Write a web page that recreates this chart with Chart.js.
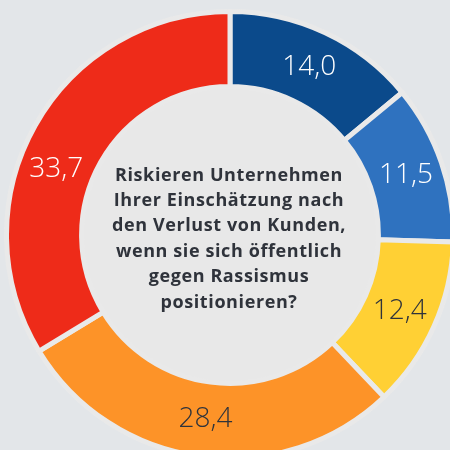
<!DOCTYPE html>
<html>
<head>
<meta charset="utf-8">
<script src="https://cdn.jsdelivr.net/npm/chart.js@4"></script>
<style>
html,body{margin:0;padding:0;width:450px;height:450px;overflow:hidden;background:#e3e6e9;}
#box{position:absolute;left:4px;top:9px;width:452px;height:452px;}
</style>
</head>
<body>
<div id="box"><canvas id="graf"></canvas></div>
<script>
var valori=[14.0,11.5,12.4,28.4,33.7];
var etichette=["14,0","11,5","12,4","28,4","33,7"];
var colori=["#0b4a8b","#2f72bf","#ffd034","#fd9328","#ee2b19"];
var coloriTesto=["#ffffff","#ffffff","#2f333b","#2f333b","#ffffff"];
var spostamento=[0,0,0,0,-8.5]; // gradi, solo per l'ultima etichetta
var domanda=["Riskieren Unternehmen","Ihrer Einschätzung nach","den Verlust von Kunden,","wenn sie sich öffentlich","gegen Rassismus","positionieren?"];

var centro={
    id:"centro",
    beforeDatasetsDraw:function(chart){
        var arc=chart.getDatasetMeta(0).data[0];
        var ctx=chart.ctx;
        ctx.save();
        ctx.fillStyle="#e8e8e8";
        ctx.beginPath();
        ctx.arc(arc.x,arc.y,arc.outerRadius+2,0,Math.PI*2);
        ctx.fill();
        ctx.restore();
    },
    afterDatasetsDraw:function(chart){
        var meta=chart.getDatasetMeta(0);
        var ctx=chart.ctx;
        ctx.save();
        ctx.textAlign="center";
        ctx.textBaseline="middle";
        ctx.font="300 28px 'Open Sans'";
        for(var i=0;i<meta.data.length;i++){
            var a=meta.data[i];
            var ang=(a.startAngle+a.endAngle)/2+spostamento[i]*Math.PI/180;
            var r=(a.innerRadius+a.outerRadius)/2;
            ctx.fillStyle=coloriTesto[i];
            ctx.fillText(etichette[i],a.x+r*Math.cos(ang),a.y+r*Math.sin(ang));
        }
        var a0=meta.data[0];
        ctx.fillStyle="#2f333b";
        ctx.font="700 18px 'Open Sans'";
        ctx.letterSpacing="0.6px";
        var h=25.4;
        var y0=a0.y-h*(domanda.length-1)/2+4;
        for(var j=0;j<domanda.length;j++)
            ctx.fillText(domanda[j],a0.x-1,y0+j*h);
        ctx.restore();
    }
};

var grafico=new Chart("graf",{
    type:"doughnut",
    data:{
        labels:etichette,
        datasets:[{
            data:valori,
            backgroundColor:colori,
            borderColor:"#e9e9e9",
            borderWidth:5
        }]
    },
    options:{
        responsive:true,
        maintainAspectRatio:false,
        animation:false,
        cutout:"66.4%",
        layout:{padding:0},
        plugins:{legend:{display:false},tooltip:{enabled:false}}
    },
    plugins:[centro]
});
</script>
</body>
</html>
